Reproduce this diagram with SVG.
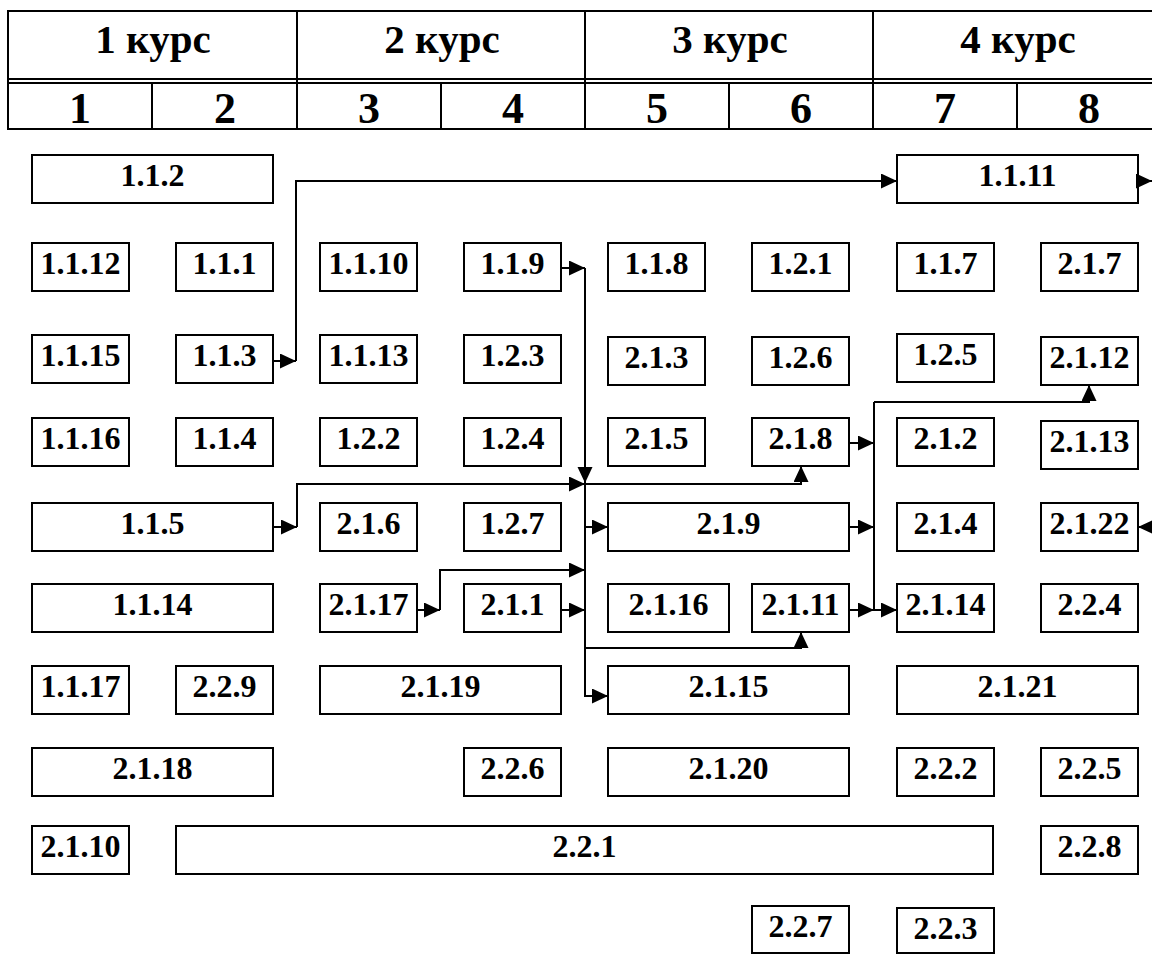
<svg xmlns="http://www.w3.org/2000/svg" width="1152" height="954" viewBox="0 0 1152 954">
<style>
.hd{fill:none;stroke:#000;stroke-width:2}
.ht{font-family:"Liberation Serif","Times New Roman",serif;font-weight:bold;font-size:41px;text-anchor:middle;fill:#000}
.hn{font-family:"Liberation Serif","Times New Roman",serif;font-weight:bold;font-size:44px;text-anchor:middle;fill:#000}
.n rect{fill:#fff;stroke:#000;stroke-width:2}
.n text{font-family:"Liberation Serif","Times New Roman",serif;font-weight:bold;font-size:32px;text-anchor:middle;fill:#000}
.c{fill:none;stroke:#000;stroke-width:2}
</style>
<defs>
<marker id="ah" markerUnits="userSpaceOnUse" markerWidth="18" markerHeight="18" refX="16" refY="7.5" orient="auto">
<path d="M0,0 L16,7.5 L0,15 z" fill="#000"/>
</marker>
</defs>
<rect width="1152" height="954" fill="#fff"/>
<g id="header">
<path class="hd" d="M7,11 H1152 M7,79 H1152 M7,83 H1152 M7,129 H1152 M8,11 V129 M297,11 V129 M585,11 V129 M873,11 V129 M152,83 V129 M441,83 V129 M729,83 V129 M1017,83 V129"/>
<text class="ht" x="153" y="53">1 курс</text>
<text class="ht" x="442" y="53">2 курс</text>
<text class="ht" x="730" y="53">3 курс</text>
<text class="ht" x="1018" y="53">4 курс</text>
<text class="hn" x="80" y="123">1</text>
<text class="hn" x="225" y="123">2</text>
<text class="hn" x="369" y="123">3</text>
<text class="hn" x="513" y="123">4</text>
<text class="hn" x="657" y="123">5</text>
<text class="hn" x="801" y="123">6</text>
<text class="hn" x="945" y="123">7</text>
<text class="hn" x="1089" y="123">8</text>
</g>
<g id="n-1.1.2" class="n"><rect x="32" y="155" width="241" height="48"/><text x="152.5" y="186">1.1.2</text></g>
<g id="n-1.1.11" class="n"><rect x="897" y="155" width="241" height="48"/><text x="1017.5" y="186">1.1.11</text></g>
<g id="n-1.1.12" class="n"><rect x="32" y="243" width="97" height="48"/><text x="80.5" y="274">1.1.12</text></g>
<g id="n-1.1.1" class="n"><rect x="176" y="243" width="97" height="48"/><text x="224.5" y="274">1.1.1</text></g>
<g id="n-1.1.10" class="n"><rect x="320" y="243" width="97" height="48"/><text x="368.5" y="274">1.1.10</text></g>
<g id="n-1.1.9" class="n"><rect x="464" y="243" width="97" height="48"/><text x="512.5" y="274">1.1.9</text></g>
<g id="n-1.1.8" class="n"><rect x="608" y="243" width="97" height="48"/><text x="656.5" y="274">1.1.8</text></g>
<g id="n-1.2.1" class="n"><rect x="752" y="243" width="97" height="48"/><text x="800.5" y="274">1.2.1</text></g>
<g id="n-1.1.7" class="n"><rect x="897" y="243" width="97" height="48"/><text x="945.5" y="274">1.1.7</text></g>
<g id="n-2.1.7" class="n"><rect x="1041" y="243" width="97" height="48"/><text x="1089.5" y="274">2.1.7</text></g>
<g id="n-1.1.15" class="n"><rect x="32" y="335" width="97" height="48"/><text x="80.5" y="366">1.1.15</text></g>
<g id="n-1.1.3" class="n"><rect x="176" y="335" width="97" height="48"/><text x="224.5" y="366">1.1.3</text></g>
<g id="n-1.1.13" class="n"><rect x="320" y="335" width="97" height="48"/><text x="368.5" y="366">1.1.13</text></g>
<g id="n-1.2.3" class="n"><rect x="464" y="335" width="97" height="48"/><text x="512.5" y="366">1.2.3</text></g>
<g id="n-2.1.3" class="n"><rect x="608" y="337" width="97" height="48"/><text x="656.5" y="368">2.1.3</text></g>
<g id="n-1.2.6" class="n"><rect x="752" y="337" width="97" height="48"/><text x="800.5" y="368">1.2.6</text></g>
<g id="n-1.2.5" class="n"><rect x="897" y="334" width="97" height="48"/><text x="945.5" y="365">1.2.5</text></g>
<g id="n-2.1.12" class="n"><rect x="1041" y="337" width="97" height="48"/><text x="1089.5" y="368">2.1.12</text></g>
<g id="n-1.1.16" class="n"><rect x="32" y="418" width="97" height="48"/><text x="80.5" y="449">1.1.16</text></g>
<g id="n-1.1.4" class="n"><rect x="176" y="418" width="97" height="48"/><text x="224.5" y="449">1.1.4</text></g>
<g id="n-1.2.2" class="n"><rect x="320" y="418" width="97" height="48"/><text x="368.5" y="449">1.2.2</text></g>
<g id="n-1.2.4" class="n"><rect x="464" y="418" width="97" height="48"/><text x="512.5" y="449">1.2.4</text></g>
<g id="n-2.1.5" class="n"><rect x="608" y="418" width="97" height="48"/><text x="656.5" y="449">2.1.5</text></g>
<g id="n-2.1.8" class="n"><rect x="752" y="418" width="97" height="48"/><text x="800.5" y="449">2.1.8</text></g>
<g id="n-2.1.2" class="n"><rect x="897" y="418" width="97" height="48"/><text x="945.5" y="449">2.1.2</text></g>
<g id="n-2.1.13" class="n"><rect x="1041" y="421" width="97" height="48"/><text x="1089.5" y="452">2.1.13</text></g>
<g id="n-1.1.5" class="n"><rect x="32" y="503" width="241" height="48"/><text x="152.5" y="534">1.1.5</text></g>
<g id="n-2.1.6" class="n"><rect x="320" y="503" width="97" height="48"/><text x="368.5" y="534">2.1.6</text></g>
<g id="n-1.2.7" class="n"><rect x="464" y="503" width="97" height="48"/><text x="512.5" y="534">1.2.7</text></g>
<g id="n-2.1.9" class="n"><rect x="608" y="503" width="241" height="48"/><text x="728.5" y="534">2.1.9</text></g>
<g id="n-2.1.4" class="n"><rect x="897" y="503" width="97" height="48"/><text x="945.5" y="534">2.1.4</text></g>
<g id="n-2.1.22" class="n"><rect x="1041" y="503" width="97" height="48"/><text x="1089.5" y="534">2.1.22</text></g>
<g id="n-1.1.14" class="n"><rect x="32" y="584" width="241" height="48"/><text x="152.5" y="615">1.1.14</text></g>
<g id="n-2.1.17" class="n"><rect x="320" y="584" width="97" height="48"/><text x="368.5" y="615">2.1.17</text></g>
<g id="n-2.1.1" class="n"><rect x="464" y="584" width="97" height="48"/><text x="512.5" y="615">2.1.1</text></g>
<g id="n-2.1.16" class="n"><rect x="608" y="584" width="121" height="48"/><text x="668.5" y="615">2.1.16</text></g>
<g id="n-2.1.11" class="n"><rect x="752" y="584" width="97" height="48"/><text x="800.5" y="615">2.1.11</text></g>
<g id="n-2.1.14" class="n"><rect x="897" y="584" width="97" height="48"/><text x="945.5" y="615">2.1.14</text></g>
<g id="n-2.2.4" class="n"><rect x="1041" y="584" width="97" height="48"/><text x="1089.5" y="615">2.2.4</text></g>
<g id="n-1.1.17" class="n"><rect x="32" y="666" width="97" height="48"/><text x="80.5" y="697">1.1.17</text></g>
<g id="n-2.2.9" class="n"><rect x="176" y="666" width="97" height="48"/><text x="224.5" y="697">2.2.9</text></g>
<g id="n-2.1.19" class="n"><rect x="320" y="666" width="241" height="48"/><text x="440.5" y="697">2.1.19</text></g>
<g id="n-2.1.15" class="n"><rect x="608" y="666" width="241" height="48"/><text x="728.5" y="697">2.1.15</text></g>
<g id="n-2.1.21" class="n"><rect x="897" y="666" width="241" height="48"/><text x="1017.5" y="697">2.1.21</text></g>
<g id="n-2.1.18" class="n"><rect x="32" y="748" width="241" height="48"/><text x="152.5" y="779">2.1.18</text></g>
<g id="n-2.2.6" class="n"><rect x="464" y="748" width="97" height="48"/><text x="512.5" y="779">2.2.6</text></g>
<g id="n-2.1.20" class="n"><rect x="608" y="748" width="241" height="48"/><text x="728.5" y="779">2.1.20</text></g>
<g id="n-2.2.2" class="n"><rect x="897" y="748" width="97" height="48"/><text x="945.5" y="779">2.2.2</text></g>
<g id="n-2.2.5" class="n"><rect x="1041" y="748" width="97" height="48"/><text x="1089.5" y="779">2.2.5</text></g>
<g id="n-2.1.10" class="n"><rect x="32" y="826" width="97" height="48"/><text x="80.5" y="857">2.1.10</text></g>
<g id="n-2.2.1" class="n"><rect x="176" y="826" width="817" height="48"/><text x="584.5" y="857">2.2.1</text></g>
<g id="n-2.2.8" class="n"><rect x="1041" y="826" width="97" height="48"/><text x="1089.5" y="857">2.2.8</text></g>
<g id="n-2.2.7" class="n"><rect x="752" y="906" width="97" height="47"/><text x="800.5" y="937">2.2.7</text></g>
<g id="n-2.2.3" class="n"><rect x="897" y="908" width="97" height="45"/><text x="945.5" y="939">2.2.3</text></g>
<g id="connectors">
<path class="c" d="M273,361 H296" marker-end="url(#ah)"/>
<path class="c" d="M296,361 V181 H897" marker-end="url(#ah)"/>
<path class="c" d="M1138,181 H1152" marker-end="url(#ah)"/>
<path class="c" d="M561,268 H585" marker-end="url(#ah)"/>
<path class="c" d="M585,268 V483" marker-end="url(#ah)"/>
<path class="c" d="M273,527 H297" marker-end="url(#ah)"/>
<path class="c" d="M297,527 V484 H585" marker-end="url(#ah)"/>
<path class="c" d="M417,610 H440" marker-end="url(#ah)"/>
<path class="c" d="M440,610 V570 H585" marker-end="url(#ah)"/>
<path class="c" d="M561,610 H585" marker-end="url(#ah)"/>
<path class="c" d="M585,484 V696 H608" marker-end="url(#ah)"/>
<path class="c" d="M585,527 H608" marker-end="url(#ah)"/>
<path class="c" d="M585,484 H801 V466" marker-end="url(#ah)"/>
<path class="c" d="M585,648 H801 V632" marker-end="url(#ah)"/>
<path class="c" d="M849,443 H874" marker-end="url(#ah)"/>
<path class="c" d="M849,527 H874" marker-end="url(#ah)"/>
<path class="c" d="M849,610 H874" marker-end="url(#ah)"/>
<path class="c" d="M874,402 V610 H897" marker-end="url(#ah)"/>
<path class="c" d="M874,402 H1089 V385" marker-end="url(#ah)"/>
<path class="c" d="M1152,527 H1138" marker-end="url(#ah)"/>
</g>
</svg>
